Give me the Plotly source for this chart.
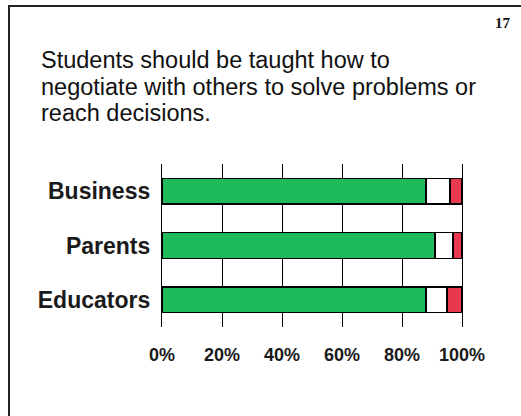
import plotly.graph_objects as go

# Survey responses by group (percent of respondents)
groups = ["Business", "Parents", "Educators"]
agree = [88, 91, 88]
neutral = [8, 6, 7]
disagree = [4, 3, 5]

tick_vals = [0, 20, 40, 60, 80, 100]
tick_text = ["0%", "20%", "40%", "60%", "80%", "100%"]

title_lines = ["Students should be taught how to",
               "negotiate with others to solve problems or",
               "reach decisions."]
page_number = "17"

W, H = 521, 416
L, R, T, B = 162, 59, 164, 89
PW, PH = W - L - R, H - T - B


def px_x(x):
    return (x - L) / PW


def px_y(y):
    return (H - B - y) / PH


outline = dict(color="black", width=1.2)
fig = go.Figure()
fig.add_trace(go.Bar(y=groups, x=agree, orientation="h", name="Agree",
                     marker=dict(color="#1fba5c", line=outline), width=0.47))
fig.add_trace(go.Bar(y=groups, x=neutral, orientation="h", name="Neutral",
                     marker=dict(color="white", line=outline), width=0.47))
fig.add_trace(go.Bar(y=groups, x=disagree, orientation="h", name="Disagree",
                     marker=dict(color="#e8384f", line=outline), width=0.47))

fig.update_layout(
    barmode="stack",
    width=W, height=H,
    margin=dict(l=L, r=R, t=T, b=B),
    paper_bgcolor="white", plot_bgcolor="white",
    showlegend=False,
    font=dict(family="Liberation Sans, Arial, sans-serif", color="black"),
    xaxis=dict(range=[0, 100], tickvals=tick_vals, ticktext=tick_text,
               showgrid=True, gridcolor="black", gridwidth=1.3,
               zeroline=False, showline=False, ticks="",
               tickfont=dict(size=18, weight="bold", color="#1a1a1a"),
               ticklabelstandoff=15, fixedrange=True),
    yaxis=dict(autorange="reversed", showline=True, mirror=True,
               linecolor="black", linewidth=1.3, showgrid=False,
               ticks="", tickfont=dict(size=23, weight="bold", color="#1a1a1a"),
               ticklabelstandoff=6, fixedrange=True),
)

# Slide frame
fig.add_shape(type="rect", xref="paper", yref="paper",
              x0=px_x(9), x1=px_x(540), y0=px_y(440), y1=px_y(6),
              line=dict(color="#222", width=2), fillcolor="rgba(0,0,0,0)",
              layer="below")

# Slide heading, one annotation per line
for i, line in enumerate(title_lines):
    fig.add_annotation(xref="paper", yref="paper", x=px_x(39),
                       y=px_y(45 + 26.5 * i),
                       xanchor="left", yanchor="top", align="left",
                       text=line, showarrow=False,
                       font=dict(size=23.5, color="#111"))

fig.add_annotation(xref="paper", yref="paper", x=px_x(513), y=px_y(13),
                   xanchor="right", yanchor="top", text=page_number,
                   showarrow=False,
                   font=dict(family="Liberation Serif, Times New Roman, serif",
                             size=15, weight="bold", color="#111"))

fig.write_html("out.html")
